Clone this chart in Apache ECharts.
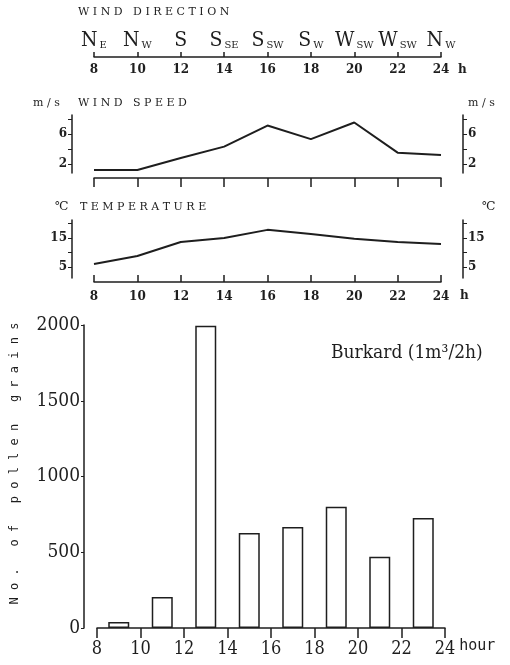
<!DOCTYPE html>
<html>
<head>
<meta charset="utf-8">
<script src="https://cdn.jsdelivr.net/npm/echarts@6/dist/echarts.min.js"></script>
<style>
    html, body {margin: 0; padding: 0; background: #fff;}
    #main {width: 510px; height: 665px;}
</style>
</head>
<body>
<div id="main"></div>
<script>
    // data
    var hours = [8, 10, 12, 14, 16, 18, 20, 22, 24];
    var windDir = ['NE', 'NW', 'S', 'SSE', 'SSW', 'SW', 'WSW', 'WSW', 'NW'];
    var windSpeed = [1.2, 1.2, 2.8, 4.3, 7.1, 5.3, 7.5, 3.5, 3.2];
    var temperature = [6.0, 8.8, 13.6, 15.0, 17.8, 16.4, 14.7, 13.6, 12.9];
    var pollenHours = [9, 11, 13, 15, 17, 19, 21, 23];
    var pollen = [40, 205, 1995, 627, 667, 800, 470, 726];
    var speedTicks = [2, 4, 6, 8];
    var speedLabels = [2, 6];
    var tempTicks = [5, 10, 15, 20];
    var tempLabels = [5, 15];

    var ink = '#1e1e1e';
    var typeFont = 'DejaVu Serif';
    var narrowFont = '"DejaVu Serif Condensed", serif';

    var myChart = echarts.init(document.getElementById('main'));

    function pairs(xs, ys) {
        var out = [];
        for (var a = 0; a < xs.length; a++) {
            out.push([xs[a], ys[a]]);
        }
        return out;
    }

    function hourAxis(grid, opt) {
        var ax = {
            type: 'value',
            gridIndex: grid,
            min: 8,
            max: 24,
            interval: 2,
            splitLine: {show: false},
            axisLine: {show: true, lineStyle: {color: ink, width: 1.5}},
            axisTick: {show: true, lineStyle: {color: ink, width: 1.5}},
            axisLabel: {show: false}
        };
        for (var k in opt) ax[k] = opt[k];
        return ax;
    }

    function sideAxis(grid, pos, min, max, ticks, labels) {
        return {
            type: 'value',
            gridIndex: grid,
            position: pos,
            offset: 22,
            min: min,
            max: max,
            splitLine: {show: false},
            axisLine: {show: true, lineStyle: {color: ink, width: 1.5}},
            axisTick: {show: true, length: 4, customValues: ticks, lineStyle: {color: ink}},
            axisLabel: {
                customValues: labels, margin: 5, color: ink,
                fontFamily: typeFont, fontSize: 12, fontWeight: 'bold'
            }
        };
    }

    function titleText(text, left, top, size) {
        return {
            text: text, left: left, top: top, padding: 0,
            textStyle: {fontFamily: typeFont, fontSize: size || 11, fontWeight: 'normal', color: ink}
        };
    }

    var option = {
        animation: false,
        backgroundColor: '#fff',
        title: [
            titleText('W I N D   D I R E C T I O N', 78, 7),
            titleText('m / s', 33, 98),
            titleText('W I N D   S P E E D', 78, 98),
            titleText('m / s', 468, 98),
            titleText('℃', 55, 201, 12),
            titleText('T E M P E R A T U R E', 80, 202),
            titleText('℃', 482, 201, 12),
            {
                text: 'Burkard (1m³/2h)', left: 331, top: 344, padding: 0,
                textStyle: {fontFamily: narrowFont, fontSize: 19, fontWeight: 'normal', color: ink}
            }
        ],
        grid: [
            {left: 94, right: 69, top: 48, height: 9, outerBoundsMode: 'none'},
            {left: 94, right: 69, top: 115, height: 58, outerBoundsMode: 'none'},
            {left: 94, right: 69, top: 220, height: 58, outerBoundsMode: 'none'},
            {left: 97, right: 65, top: 325, height: 303, outerBoundsMode: 'none'}
        ],
        xAxis: [
            // wind direction: hours below, directions above
            hourAxis(0, {
                position: 'bottom',
                axisTick: {show: true, inside: true, length: 5, lineStyle: {color: ink, width: 1.5}},
                axisLabel: {show: true, margin: 7, color: ink, fontFamily: typeFont, fontSize: 12, fontWeight: 'bold'},
                name: 'h', nameLocation: 'end', nameGap: 17,
                nameTextStyle: {fontFamily: typeFont, fontSize: 12, fontWeight: 'bold', color: ink, verticalAlign: 'top', padding: [7, 0, 0, 0]}
            }),
            hourAxis(0, {
                position: 'top',
                axisLine: {show: false},
                axisTick: {show: false},
                axisLabel: {
                    show: true, margin: -3,
                    formatter: function (v) {
                        var d = windDir[(v - 8) / 2];
                        return '{b|' + d.charAt(0) + '}' + (d.length > 1 ? '{s|' + d.slice(1) + '}' : '');
                    },
                    rich: {
                        b: {fontFamily: narrowFont, fontSize: 21, color: ink, verticalAlign: 'bottom'},
                        s: {fontFamily: typeFont, fontSize: 10, color: ink, verticalAlign: 'bottom', padding: [0, 0, 1, 2]}
                    }
                }
            }),
            // wind speed
            hourAxis(1, {
                position: 'bottom', offset: 5,
                axisTick: {show: true, length: 9, lineStyle: {color: ink, width: 1.5}}
            }),
            // temperature
            hourAxis(2, {
                position: 'bottom', offset: 4,
                axisTick: {show: true, inside: true, length: 7, lineStyle: {color: ink, width: 1.5}},
                axisLabel: {show: true, margin: 9, color: ink, fontFamily: typeFont, fontSize: 12, fontWeight: 'bold'},
                name: 'h', nameLocation: 'end', nameGap: 19,
                nameTextStyle: {fontFamily: typeFont, fontSize: 12, fontWeight: 'bold', color: ink, verticalAlign: 'top', padding: [8, 0, 0, 0]}
            }),
            // pollen
            hourAxis(3, {
                position: 'bottom',
                axisTick: {show: true, length: 10, lineStyle: {color: ink, width: 1.5}},
                axisLabel: {show: true, margin: 12, color: ink, fontFamily: narrowFont, fontSize: 18},
                name: 'hour', nameLocation: 'end', nameGap: 8,
                nameTextStyle: {fontFamily: 'DejaVu Sans Mono', fontSize: 15, color: ink, verticalAlign: 'top', padding: [11, 0, 0, 0]}
            })
        ],
        yAxis: [
            sideAxis(1, 'left', 0.8, 8.5, speedTicks, speedLabels),
            sideAxis(1, 'right', 0.8, 8.5, speedTicks, speedLabels),
            sideAxis(2, 'left', 1.2, 21.2, tempTicks, tempLabels),
            sideAxis(2, 'right', 1.2, 21.2, tempTicks, tempLabels),
            {
                type: 'value',
                gridIndex: 3,
                offset: 13,
                min: 0,
                max: 2000,
                interval: 500,
                splitLine: {show: false},
                axisLine: {show: true, lineStyle: {color: ink, width: 1.5}},
                axisTick: {show: true, length: 3, lineStyle: {color: ink}},
                axisLabel: {
                    margin: 4, color: ink, fontFamily: narrowFont, fontSize: 19,
                    formatter: function (v) { return String(v); }
                },
                name: 'N o .   o f   p o l l e n   g r a i n s',
                nameLocation: 'middle', nameGap: 63, nameRotate: 90,
                nameTextStyle: {fontFamily: 'DejaVu Sans Mono', fontSize: 12, color: ink, padding: [0, 0, 0, 26]}
            },
            {type: 'value', gridIndex: 0, show: false}
        ],
        series: [
            {
                type: 'line', xAxisIndex: 2, yAxisIndex: 0,
                data: pairs(hours, windSpeed),
                symbol: 'none',
                lineStyle: {color: ink, width: 2}
            },
            {
                type: 'line', xAxisIndex: 3, yAxisIndex: 2,
                data: pairs(hours, temperature),
                symbol: 'none',
                lineStyle: {color: ink, width: 2}
            },
            {
                type: 'bar', xAxisIndex: 4, yAxisIndex: 4,
                data: pairs(pollenHours, pollen),
                barWidth: 21,
                itemStyle: {color: '#fff', borderColor: ink, borderWidth: 1.5}
            }
        ]
    };

    myChart.setOption(option);
</script>
</body>
</html>
